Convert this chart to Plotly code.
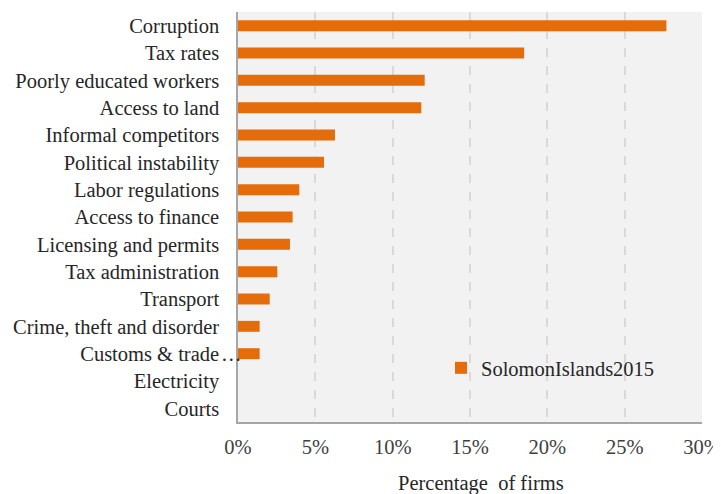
import plotly.graph_objects as go

categories = ["Corruption", "Tax rates", "Poorly educated workers", "Access to land",
              "Informal competitors", "Political instability", "Labor regulations",
              "Access to finance", "Licensing and permits", "Tax administration",
              "Transport", "Crime, theft and disorder", "Customs & trade regulations",
              "Electricity", "Courts"]
tick_labels = ["Corruption", "Tax rates", "Poorly educated workers", "Access to land",
               "Informal competitors", "Political instability", "Labor regulations",
               "Access to finance", "Licensing and permits", "Tax administration",
               "Transport", "Crime, theft and disorder", "Customs & trade",
               "Electricity", "Courts"]
values = [27.7, 18.5, 12.07, 11.85, 6.27, 5.56, 3.96, 3.53, 3.36, 2.54, 2.05, 1.40, 1.40, 0.0, 0.0]
series_name = "SolomonIslands2015"
x_ticks = [0, 5, 10, 15, 20, 25, 30]
x_tick_labels = ["0%", "5%", "10%", "15%", "20%", "25%", "30%"]

FONT = "Liberation Serif"
FS = 20.5
ORANGE = "#E46C0A"

# page body has an 8px margin: figure drawn at (8, 8) in the window
OFF = 8
W, H = 721 - OFF, 494 - OFF
L = 238 - OFF
T = 12 - OFF
R = 721 - 702
B = 494 - 422
pw = W - L - R
ph = H - T - B


def px_x(x):  # window px -> paper x
    return (x - OFF - L) / pw


def px_y(y):  # window px -> paper y
    return (H - B - (y - OFF)) / ph


fig = go.Figure()
fig.add_trace(go.Bar(
    x=values, y=categories, orientation="h", name=series_name,
    marker=dict(color=ORANGE, line=dict(width=0)),
    showlegend=True,
))

fig.update_layout(
    width=W, height=H,
    margin=dict(l=L, r=R, t=T, b=B, pad=0, autoexpand=False),
    paper_bgcolor="white", plot_bgcolor="#F2F2F2",
    bargap=0.6,
    font=dict(family=FONT, size=FS, color="#262626"),
    showlegend=True,
    legend=dict(x=px_x(441), y=px_y(368), xanchor="left", yanchor="middle",
                bgcolor="rgba(0,0,0,0)", font=dict(family=FONT, size=FS, color="#262626"),
                itemwidth=30, tracegroupgap=0),
    xaxis=dict(range=[0, 30], tickvals=x_ticks, ticktext=x_tick_labels,
               showgrid=True, gridcolor="#D9D9D9", griddash="dash", gridwidth=1.5,
               zeroline=False, showline=True, linecolor="#A6A6A6", linewidth=1.5,
               ticks="", ticklabelstandoff=6, automargin=False,
               tickfont=dict(family=FONT, size=FS, color="#404040"),
               fixedrange=True),
    yaxis=dict(type="category", categoryorder="array", categoryarray=categories,
               autorange="reversed", tickvals=categories, ticktext=tick_labels,
               showgrid=False, zeroline=False, showline=True, linecolor="#A6A6A6", linewidth=1.5,
               ticks="", ticklabelstandoff=13, automargin=False,
               tickfont=dict(family=FONT, size=FS, color="#262626")),
)

fig.add_annotation(text="…", xref="paper", yref="y", x=px_x(220), y=categories[12],
                   xanchor="left", yanchor="middle", showarrow=False, borderpad=0,
                   font=dict(family=FONT, size=FS, color="#262626"))
fig.add_annotation(text="Percentage  of firms", xref="paper", yref="paper",
                   x=px_x(481), y=px_y(484), xanchor="center", yanchor="middle",
                   showarrow=False, font=dict(family=FONT, size=FS, color="#262626"))

fig.write_html("out.html")
